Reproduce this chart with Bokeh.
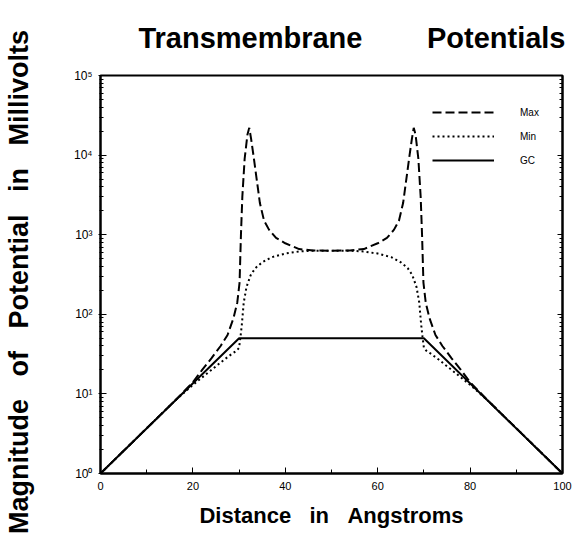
from bokeh.plotting import figure
from bokeh.models import Range1d, LogAxis, FixedTicker, Legend, LegendItem
from bokeh.embed import file_html
from bokeh.resources import INLINE

# ---- data ----
max_x = [0, 10, 16, 20, 22, 24, 26, 27.5, 28.8, 29.6, 30.1, 30.4, 30.7, 31.2, 31.8, 32.2,
         32.6, 33.1, 33.8, 34.5, 35.4, 36.5, 38, 40, 43, 46, 50,
         54, 57, 60, 62, 63.5, 64.6, 65.5, 66.2, 66.9, 67.4, 67.8, 68.2, 68.8, 69.3,
         69.6, 69.9, 70.4, 71.2, 72.5, 74, 76, 78, 80, 84, 90, 100]
max_y = [1, 3.7, 8.1, 14, 20, 28, 40, 55, 90, 140, 250, 1000, 3000, 9000, 18000, 22000,
         16000, 10000, 5000, 2500, 1500, 1150, 910, 780, 660, 635, 630,
         635, 660, 780, 910, 1150, 1500, 2500, 5000, 10000, 16000, 22000, 18000, 9000, 3000,
         1000, 250, 140, 90, 55, 40, 28, 20, 14, 8.1, 3.7, 1]

min_x = [0, 10, 16, 20, 24, 26.8, 28.5, 29.5, 30, 30.3, 30.6, 31, 31.6, 32.5, 33.5, 35, 37,
         40, 43, 46, 50,
         54, 57, 60, 63, 65, 66.5, 67.5, 68.4, 69, 69.4, 69.7, 70, 70.5, 71.5, 73.2, 76,
         80, 84, 90, 100]
min_y = [1, 3.7, 8.1, 13, 20, 27, 32, 35, 38, 52, 75, 140, 220, 310, 380, 450, 520,
         580, 615, 630, 630,
         630, 615, 580, 520, 450, 380, 310, 220, 140, 75, 52, 38, 35, 32, 27, 20,
         13, 8.1, 3.7, 1]

gc_x = [0, 30, 70, 100]
gc_y = [1, 50, 50, 1]

x_ticks = [0, 20, 40, 60, 80, 100]
x_minor = [10, 30, 50, 70, 90]
y_ticks = [1, 10, 100, 1000, 10000, 100000]
y_tick_labels = ["10\u2070", "10\u00b9", "10\u00b2", "10\u00b3", "10\u2074", "10\u2075"]
y_minor = [m * d for d in [1, 10, 100, 1000, 10000] for m in range(2, 10)]

series_names = ["Max", "Min", "GC"]

FONT = "Liberation Sans"

p = figure(width=576, height=544, x_range=Range1d(0, 100), y_range=Range1d(1, 1e5),
           y_axis_type="log", output_backend="svg", toolbar_location=None,
           min_border_left=100, min_border_right=14, min_border_top=75, min_border_bottom=71)

p.background_fill_color = "white"
p.border_fill_color = "white"
p.outline_line_color = "black"
p.outline_line_width = 2
p.grid.visible = False

# title
p.title.text = "Transmembrane" + "\u00a0" * 8 + "Potentials"
p.title.align = "right"
p.title.vertical_align = "top"
p.title.text_font = FONT
p.title.text_font_style = "bold"
p.title.text_font_size = "29px"
p.title.text_color = "black"
p.title.standoff = 40
p.title.offset = -3

r_max = p.line(max_x, max_y, line_color="black", line_width=2, line_dash="9 4")
r_min = p.line(min_x, min_y, line_color="black", line_width=2, line_dash="2 3")
r_gc = p.line(gc_x, gc_y, line_color="black", line_width=2)

# x axis
xa = p.xaxis[0]
xa.ticker = FixedTicker(ticks=x_ticks, minor_ticks=x_minor)
xa.axis_label = "Distance\u00a0\u00a0\u00a0in\u00a0\u00a0\u00a0Angstroms"
xa.axis_label_text_font = FONT
xa.axis_label_text_font_style = "bold"
xa.axis_label_text_font_size = "22px"
xa.axis_label_text_color = "black"
xa.axis_label_standoff = 10
xa.major_label_text_font = FONT
xa.major_label_text_font_size = "11px"
xa.major_label_text_color = "black"
xa.major_label_standoff = 8
xa.major_tick_in = 6
xa.major_tick_out = 0
xa.minor_tick_in = 4
xa.minor_tick_out = 0
xa.axis_line_width = 2

# y axis
ya = p.yaxis[0]
ya.ticker = FixedTicker(ticks=y_ticks, minor_ticks=y_minor)
ya.major_label_overrides = dict(zip(y_ticks, y_tick_labels))
ya.axis_label = ("Magnitude\u00a0\u00a0\u00a0of\u00a0\u00a0\u00a0Potential"
                 "\u00a0\u00a0\u00a0in\u00a0\u00a0\u00a0Millivolts\u00a0\u00a0")
ya.axis_label_text_font = FONT
ya.axis_label_text_font_style = "bold"
ya.axis_label_text_font_size = "27px"
ya.axis_label_text_color = "black"
ya.axis_label_standoff = 37
ya.major_label_text_font = FONT
ya.major_label_text_font_size = "12px"
ya.major_label_text_color = "black"
ya.major_label_standoff = 6
ya.major_tick_in = 6
ya.major_tick_out = 2
ya.minor_tick_in = 3
ya.minor_tick_out = 1
ya.axis_line_width = 2

# right axis with ticks only
ra = LogAxis(ticker=FixedTicker(ticks=y_ticks, minor_ticks=y_minor),
             major_label_text_alpha=0, major_label_text_font_size="8px",
             major_tick_in=5, major_tick_out=0,
             minor_tick_in=3, minor_tick_out=0, axis_line_width=2)
p.add_layout(ra, "right")

legend = Legend(items=[LegendItem(label=series_names[0], renderers=[r_max]),
                       LegendItem(label=series_names[1], renderers=[r_min]),
                       LegendItem(label=series_names[2], renderers=[r_gc])],
                location=(332, 303), glyph_width=62, glyph_height=20, spacing=4,
                label_standoff=26, label_text_font=FONT, label_text_font_size="10px",
                label_text_color="black",
                border_line_alpha=0, background_fill_alpha=0, padding=0, margin=0)
p.add_layout(legend)

open("out.html", "w").write(file_html(p, INLINE))
